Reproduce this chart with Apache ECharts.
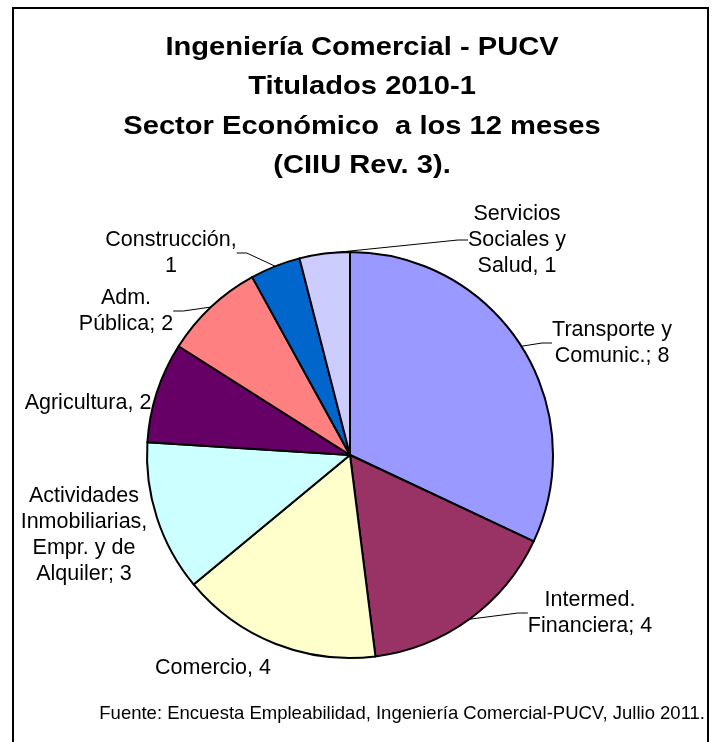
<!DOCTYPE html>
<html>
<head>
<meta charset="utf-8">
<script src="https://cdn.jsdelivr.net/npm/echarts@6/dist/echarts.min.js"></script>
<style>
  html, body { margin: 0; padding: 0; background: #fff; }
  #main { width: 715px; height: 742px; }
</style>
</head>
<body>
<div id="main"></div>
<script>
// sectores (sentido horario desde las 12)
var sectores = [
  "Transporte y\nComunic.; 8",
  "Intermed.\nFinanciera; 4",
  "Comercio, 4",
  "Actividades\nInmobiliarias,\nEmpr. y de\nAlquiler; 3",
  "Agricultura, 2",
  "Adm.\nPública; 2",
  "Construcción,\n1",
  "Servicios\nSociales y\nSalud, 1"
];
var titulados = [8, 4, 4, 3, 2, 2, 1, 1];
var colores = ["#9999FF", "#993366", "#FFFFCC", "#CCFFFF", "#660066", "#FF8080", "#0066CC", "#CCCCFF"];
var conLinea = [true, true, false, false, false, true, true, true];

// posiciones de las etiquetas (centro del bloque de texto)
var posEtiqueta = [
  [612, 343], [590, 613], [213, 668], [84, 535],
  [88, 403], [126, 311], [171, 253], [517, 240]
];

var chart = echarts.init(document.getElementById("main"));

var datos = [];
for (var i = 0; i < sectores.length; i++) {
  datos.push({
    name: sectores[i],
    value: titulados[i],
    itemStyle: { color: colores[i] },
    labelLine: { show: conLinea[i] }
  });
}

var option = {
  backgroundColor: "#fff",
  animation: false,
  graphic: [
    {
      type: "rect",
      shape: { x: 13, y: 8, width: 695, height: 760 },
      style: { fill: "none", stroke: "#000", lineWidth: 2 },
      silent: true
    },
    {
      type: "text",
      x: 362,
      y: 28,
      scaleX: 1.12,
      style: {
        text: "Ingeniería Comercial - PUCV\nTitulados 2010-1\nSector Económico  a los 12 meses\n(CIIU Rev. 3).",
        fontFamily: "Liberation Sans, Arial, sans-serif",
        fontSize: 26,
        fontWeight: "bold",
        lineHeight: 39.5,
        align: "center",
        fill: "#000"
      }
    },
    {
      type: "text",
      x: 705,
      y: 704,
      style: {
        text: "Fuente: Encuesta Empleabilidad, Ingeniería Comercial-PUCV, Jullio 2011.",
        fontFamily: "Liberation Sans, Arial, sans-serif",
        fontSize: 18.5,
        align: "right",
        fill: "#000"
      }
    }
  ],
  series: [
    {
      type: "pie",
      center: [350, 455],
      radius: 203,
      startAngle: 90,
      clockwise: true,
      data: datos,
      itemStyle: { borderColor: "#000", borderWidth: 2 },
      label: {
        show: true,
        formatter: "{b}",
        fontFamily: "Liberation Sans, Arial, sans-serif",
        fontSize: 21.5,
        color: "#000",
        lineHeight: 26,
        align: "center",
        overflow: "none"
      },
      labelLine: {
        show: true,
        length: 10,
        length2: 10,
        lineStyle: { color: "#000", width: 1 }
      },
      labelLayout: function (params) {
        var p = posEtiqueta[params.dataIndex];
        return { x: p[0], y: p[1], align: "center", verticalAlign: "middle", moveOverlap: false };
      },
      emphasis: { disabled: true }
    }
  ]
};

chart.setOption(option);
</script>
</body>
</html>
